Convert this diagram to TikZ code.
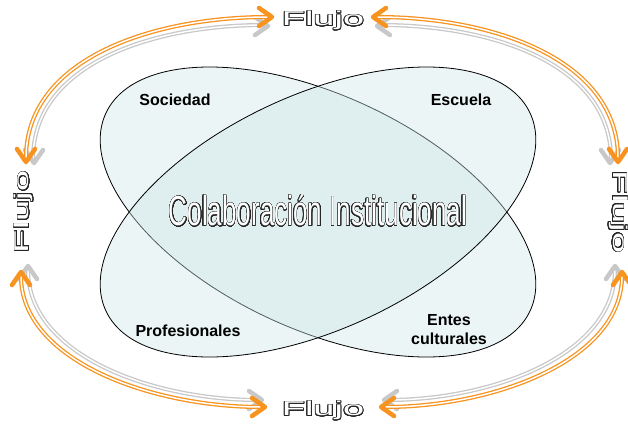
\documentclass[tikz,border=0pt]{standalone}
\usepackage{fontspec}
\setmainfont{Liberation Sans}
\usepackage{contour}
\contournumber{32}
\usetikzlibrary{calc}

\definecolor{flujoorange}{RGB}{247,147,30}
\definecolor{flujogray}{RGB}{200,200,200}
\definecolor{setfill}{RGB}{205,230,232}

\newcommand{\hueco}[2]{\contourlength{#1}\contour{black!85}{\textcolor{white}{#2}}}

\tikzset{punta/.pic={\draw[line width=4.5pt, line cap=round, line join=round] (-13,-9) -- (0,0) -- (-13,9);}}

\begin{document}
\begin{tikzpicture}
    [ x=1pt, y=-1pt,
      conjunto/.style={draw=black, line width=0.8pt, fill=setfill, fill opacity=0.4},
      etiqueta/.style={font=\fontsize{16}{19}\selectfont\bfseries, align=center, inner sep=0pt},
      flujo/.style={inner sep=0pt, font=\fontsize{20}{20}\selectfont},
      orangeline/.style={draw=flujoorange, double=white, double distance=1.5pt, line width=1.3pt},
      grayline/.style={draw=flujogray, double=white, double distance=1.5pt, line width=1.3pt}]

  \useasboundingbox (0,0) rectangle (628,423);

%%%%%%%%%%%%%%%%%%%%%%%%%%%%%%%%%%%%%%%%%%%%%%%%%%%%%%%%%%%%%%%%%%%%%%%%%%%%%%%%
%draw the two sets
  \draw[conjunto, rotate around={-25:(318,212)}] (318,212) ellipse [x radius=234, y radius=117];
  \draw[conjunto, rotate around={25:(318,212)}] (318,212) ellipse [x radius=234, y radius=117];

  \node[etiqueta] (soc)   at (175,100) {Sociedad};
  \node[etiqueta] (esc)   at (461,100) {Escuela};
  \node[etiqueta] (prof)  at (188,331) {Profesionales};
  \node[etiqueta] (entes) at (449,330) {Entes\\culturales};

  \node[inner sep=0pt] (titulo) at (318,211)
     {\scalebox{0.62}[1]{\fontsize{42}{42}\selectfont\hueco{0.65pt}{Colaboración Institucional}}};

%%%%%%%%%%%%%%%%%%%%%%%%%%%%%%%%%%%%%%%%%%%%%%%%%%%%%%%%%%%%%%%%%%%%%%%%%%%%%%%%
%flujo labels
  \node[flujo] (ftop)   at (323,21)  {\scalebox{1.9}[1]{\hueco{0.45pt}{Flujo}}};
  \node[flujo] (fbot)   at (323,411) {\scalebox{1.9}[1]{\hueco{0.45pt}{Flujo}}};
  \node[flujo, rotate=90]  (fleft)  at (24,212)  {\scalebox{1.9}[1]{\hueco{0.45pt}{Flujo}}};
  \node[flujo, rotate=-90] (fright) at (618,212) {\scalebox{1.9}[1]{\hueco{0.45pt}{Flujo}}};

%%%%%%%%%%%%%%%%%%%%%%%%%%%%%%%%%%%%%%%%%%%%%%%%%%%%%%%%%%%%%%%%%%%%%%%%%%%%%%%%
%arc ends
  \coordinate (tlO1) at (268,17);  \coordinate (tlO2) at (26,158);
  \coordinate (tlG1) at (264,25);  \coordinate (tlG2) at (33,159);
  \coordinate (trO1) at (377,17);  \coordinate (trO2) at (618,158);
  \coordinate (trG1) at (381,25);  \coordinate (trG2) at (611,159);
  \coordinate (blO1) at (21,276);  \coordinate (blO2) at (261,407);
  \coordinate (blG1) at (28,270);  \coordinate (blG2) at (258,400);
  \coordinate (brO1) at (622,276); \coordinate (brO2) at (385,407);
  \coordinate (brG1) at (615,270); \coordinate (brG2) at (388,400);

  % gray strands
  \draw[grayline] (tlG1) .. controls (152,25) and (33,64) .. (tlG2);
  \draw[grayline] (trG1) .. controls (492,25) and (611,64) .. (trG2);
  \draw[grayline] (blG1) .. controls (28,355) and (152,400) .. (blG2);
  \draw[grayline] (brG1) .. controls (615,355) and (492,400) .. (brG2);
  \pic[flujogray] at (268,26) {punta};
  \pic[flujogray, rotate=-90] at (34,163) {punta};
  \pic[flujogray, rotate=180] at (377,26) {punta};
  \pic[flujogray, rotate=-90] at (610,163) {punta};
  \pic[flujogray, rotate=90] at (28,266) {punta};
  \pic[flujogray] at (262,400) {punta};
  \pic[flujogray, rotate=90] at (615,266) {punta};
  \pic[flujogray, rotate=180] at (384,400) {punta};

  % orange strands
  \draw[orangeline] (tlO1) .. controls (150,17) and (26,60) .. (tlO2);
  \draw[orangeline] (trO1) .. controls (494,17) and (618,60) .. (trO2);
  \draw[orangeline] (blO1) .. controls (21,360) and (150,407) .. (blO2);
  \draw[orangeline] (brO1) .. controls (622,360) and (494,407) .. (brO2);
  \pic[flujoorange] at (272,17) {punta};
  \pic[flujoorange, rotate=-90] at (26,162) {punta};
  \pic[flujoorange, rotate=180] at (373,17) {punta};
  \pic[flujoorange, rotate=-90] at (618,162) {punta};
  \pic[flujoorange, rotate=90] at (21,272) {punta};
  \pic[flujoorange] at (265,407) {punta};
  \pic[flujoorange, rotate=90] at (622,272) {punta};
  \pic[flujoorange, rotate=180] at (381,407) {punta};

\end{tikzpicture}
\end{document}
